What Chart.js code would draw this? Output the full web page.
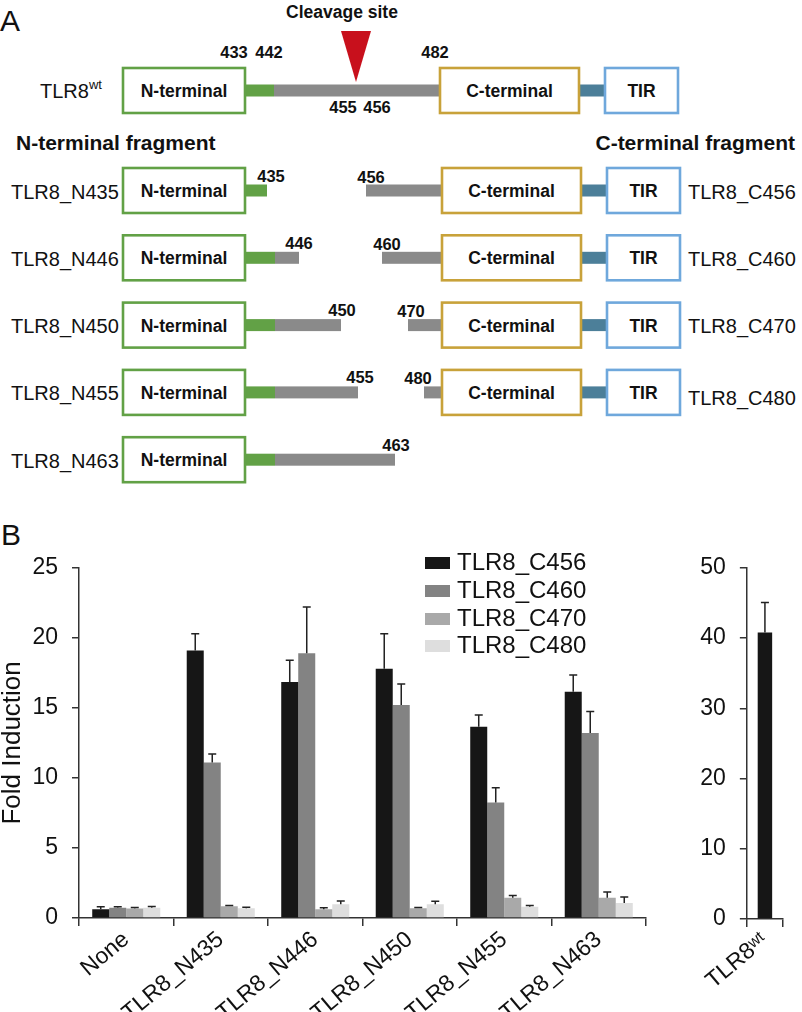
<!DOCTYPE html>
<html>
<head>
<meta charset="utf-8">
<script src="https://cdn.jsdelivr.net/npm/chart.js@4.4.1/dist/chart.umd.min.js"></script>
<style>
  body { margin: 0; background: #fff; font-family: "Liberation Sans", Arial, sans-serif; color: #111; }
  #page { position: relative; width: 802px; height: 1012px; overflow: hidden; }
  #diagram { position: absolute; left: 0; top: 0; }
  .panel { position: absolute; font-size: 30px; }
  #leftBox { position: absolute; left: 0; top: 540px; width: 660px; height: 472px; }
  #rightBox { position: absolute; left: 680px; top: 540px; width: 122px; height: 472px; }
  #legend { position: absolute; left: 425px; top: 548px; font-size: 24px; }
  #legend div { height: 27.8px; line-height: 27.8px; white-space: nowrap; }
  #legend span.sw { display: inline-block; width: 25px; height: 12px; margin-right: 7px; vertical-align: 1px; }
</style>
</head>
<body>
<div id="page">
  <svg id="diagram" width="802" height="500"></svg>
  <div class="panel" style="left:0;top:4px;">A</div>
  <div class="panel" style="left:1px;top:518px;">B</div>
  <div id="leftBox"><canvas id="chart"></canvas></div>
  <div id="rightBox"><canvas id="chartWt"></canvas></div>
  <div id="legend"></div>
</div>
<script>
'use strict';

// panel B data
let categories = ['None', 'TLR8_N435', 'TLR8_N446', 'TLR8_N450', 'TLR8_N455', 'TLR8_N463'];
let seriesNames = ['TLR8_C456', 'TLR8_C460', 'TLR8_C470', 'TLR8_C480'];
let seriesColors = ['#161616', '#838383', '#a9a9a9', '#dedede'];

let c456 = [0.62, 19.1, 16.85, 17.8, 13.65, 16.15];
let c460 = [0.73, 11.1, 18.9, 15.2, 8.25, 13.2];
let c470 = [0.68, 0.83, 0.62, 0.7, 1.45, 1.45];
let c480 = [0.73, 0.7, 0.99, 0.98, 0.8, 1.07];

let err456 = [0.18, 1.2, 1.55, 2.5, 0.85, 1.2];
let err460 = [0.07, 0.6, 3.3, 1.5, 1.05, 1.55];
let err470 = [0.07, 0.07, 0.11, 0.05, 0.15, 0.4];
let err480 = [0.09, 0.07, 0.23, 0.22, 0.1, 0.43];

let yTicks = [0, 5, 10, 15, 20, 25];

let wtLabels = ['TLR8\u02B7\u1D57'];
let wtValues = [40.8];
let wtErrors = [4.25];
let wtTicks = [0, 10, 20, 30, 40, 50];

let fontFamily = '"Liberation Sans", Arial, sans-serif';

// ---------- panel A diagram ----------
let svg = document.getElementById('diagram');
const NS = 'http://www.w3.org/2000/svg';

function add(tag, attrs, text) {
  let node = document.createElementNS(NS, tag);
  for (let k in attrs) node.setAttribute(k, attrs[k]);
  if (text !== undefined) node.textContent = text;
  svg.appendChild(node);
  return node;
}

function box(x, y, w, stroke, label) {
  add('rect', { x: x, y: y, width: w, height: 45, fill: '#fff', stroke: stroke, 'stroke-width': 2.6 });
  add('text', { x: x + w / 2, y: y + 23, 'text-anchor': 'middle', 'dominant-baseline': 'central',
    'font-family': fontFamily, 'font-weight': 'bold', 'font-size': 17.5, fill: '#111' }, label);
}

function bar(x1, x2, cy, color) {
  add('rect', { x: x1, y: cy - 6, width: x2 - x1, height: 12, fill: color });
}

function num(x, y, t) {
  add('text', { x: x, y: y, 'text-anchor': 'middle', 'dominant-baseline': 'central',
    'font-family': fontFamily, 'font-weight': 'bold', 'font-size': 16.5, fill: '#111' }, t);
}

function plain(x, y, t, anchor) {
  return add('text', { x: x, y: y, 'text-anchor': anchor || 'start', 'dominant-baseline': 'central',
    'font-family': fontFamily, 'font-size': 20, fill: '#111' }, t);
}

let green = '#62a146';
let gold = '#c8a23a';
let blue = '#6fa8dc';
let teal = '#4c7f99';
let gray = '#8a8a8a';

// wild type row
bar(245, 274, 90.5, green);
bar(274, 440, 90.5, gray);
bar(579, 605, 90.5, teal);
box(123, 68, 122, green, 'N-terminal');
box(440, 68, 139, gold, 'C-terminal');
box(605, 68, 73, blue, 'TIR');
num(234, 52, '433');
num(269, 52, '442');
num(435, 52, '482');
num(343, 107, '455');
num(377, 107, '456');
add('polygon', { points: '341,31 371,31 356,82', fill: '#c8101c' });
add('text', { x: 342, y: 12, 'text-anchor': 'middle', 'dominant-baseline': 'central',
  'font-family': fontFamily, 'font-weight': 'bold', 'font-size': 17.5, fill: '#111' }, 'Cleavage site');
let wt = plain(40, 91, 'TLR8');
let sup = document.createElementNS(NS, 'tspan');
sup.setAttribute('font-size', 13);
sup.setAttribute('dy', -7);
sup.textContent = 'wt';
wt.appendChild(sup);

add('text', { x: 16, y: 142, 'dominant-baseline': 'central', 'font-family': fontFamily,
  'font-weight': 'bold', 'font-size': 21, fill: '#111' }, 'N-terminal fragment');
add('text', { x: 795, y: 142, 'text-anchor': 'end', 'dominant-baseline': 'central', 'font-family': fontFamily,
  'font-weight': 'bold', 'font-size': 21, fill: '#111' }, 'C-terminal fragment');

let nRows = [
  { name: 'TLR8_N435', cut: '435', end: 267, labelX: 271 },
  { name: 'TLR8_N446', cut: '446', end: 299, labelX: 299 },
  { name: 'TLR8_N450', cut: '450', end: 341, labelX: 342 },
  { name: 'TLR8_N455', cut: '455', end: 358, labelX: 360 },
  { name: 'TLR8_N463', cut: '463', end: 395, labelX: 396 }
];
let cRows = [
  { name: 'TLR8_C456', cut: '456', start: 366, labelX: 371 },
  { name: 'TLR8_C460', cut: '460', start: 382, labelX: 387 },
  { name: 'TLR8_C470', cut: '470', start: 408, labelX: 411 },
  { name: 'TLR8_C480', cut: '480', start: 424, labelX: 418 }
];

for (let i = 0; i < nRows.length; i++) {
  let top = 168 + i * 67.3;
  let cy = top + 22.5;
  let r = nRows[i];
  bar(245, Math.min(r.end, 275), cy, green);
  if (r.end > 275) bar(275, r.end, cy, gray);
  box(123, top, 122, green, 'N-terminal');
  num(r.labelX, cy - 15, r.cut);
  plain(11, cy + 1, r.name);
}

for (let i = 0; i < cRows.length; i++) {
  let top = 168 + i * 67.3;
  let cy = top + 22.5;
  let r = cRows[i];
  bar(r.start, 442, cy, gray);
  bar(581, 607, cy, teal);
  box(442, top, 139, gold, 'C-terminal');
  box(607, top, 73, blue, 'TIR');
  num(r.labelX, cy - 14, r.cut);
  plain(688, cy + 1 + (i === 3 ? 5 : 0), r.name);
}

// ---------- panel B charts ----------
let errorBars = {
  id: 'errorBars',
  afterDatasetsDraw(chart) {
    let ctx = chart.ctx;
    let y = chart.scales.y;
    chart.data.datasets.forEach((ds, i) => {
      if (!ds.errors) return;
      chart.getDatasetMeta(i).data.forEach((el, j) => {
        let top = y.getPixelForValue(ds.data[j] + ds.errors[j]);
        ctx.save();
        ctx.strokeStyle = '#222';
        ctx.lineWidth = 1.5;
        ctx.beginPath();
        ctx.moveTo(el.x, el.y);
        ctx.lineTo(el.x, top);
        ctx.moveTo(el.x - 4, top);
        ctx.lineTo(el.x + 4, top);
        ctx.stroke();
        ctx.restore();
      });
    });
  }
};

function axes(yMax, step, yWidth, xHeight, title) {
  return {
    x: {
      grid: { offset: true, drawOnChartArea: false, tickLength: 8, color: '#333', lineWidth: 1.5 },
      border: { color: '#333', width: 1.5 },
      ticks: { font: { size: 23, family: fontFamily }, color: '#111', maxRotation: 40, minRotation: 40, autoSkip: false, padding: 0 },
      afterFit(s) { s.height = xHeight; }
    },
    y: {
      min: 0,
      max: yMax,
      ticks: { stepSize: step, font: { size: 23, family: fontFamily }, color: '#111', padding: 14 },
      grid: { drawOnChartArea: false, tickLength: 7, color: '#333', lineWidth: 1.5 },
      border: { color: '#333', width: 1.5 },
      title: { display: !!title, text: title || '', font: { size: 26, family: fontFamily, lineHeight: 1 }, color: '#111', padding: 0 },
      afterFit(s) { s.width = yWidth; }
    }
  };
}

let seriesValues = [c456, c460, c470, c480];
let seriesErrors = [err456, err460, err470, err480];
let datasets = [];
for (let i = 0; i < seriesNames.length; i++) {
  datasets.push({
    label: seriesNames[i],
    data: seriesValues[i],
    errors: seriesErrors[i],
    backgroundColor: seriesColors[i],
    borderWidth: 0,
    categoryPercentage: 0.72,
    barPercentage: 1
  });
}

new Chart(document.getElementById('chart'), {
  type: 'bar',
  data: { labels: categories, datasets: datasets },
  options: {
    responsive: true,
    maintainAspectRatio: false,
    animation: false,
    layout: { padding: { top: 18, right: 14, left: 0, bottom: 0 } },
    plugins: { legend: { display: false }, tooltip: { enabled: false } },
    scales: axes(yTicks[yTicks.length - 1], yTicks[1] - yTicks[0], 79, 94, 'Fold Induction')
  },
  plugins: [errorBars]
});

new Chart(document.getElementById('chartWt'), {
  type: 'bar',
  data: {
    labels: wtLabels,
    datasets: [{
      label: 'TLR8wt',
      data: wtValues,
      errors: wtErrors,
      backgroundColor: seriesColors[0],
      borderWidth: 0,
      categoryPercentage: 1,
      barPercentage: 0.4
    }]
  },
  options: {
    responsive: true,
    maintainAspectRatio: false,
    animation: false,
    layout: { padding: { top: 17, right: 19, left: 0, bottom: 0 } },
    plugins: { legend: { display: false }, tooltip: { enabled: false } },
    scales: axes(wtTicks[wtTicks.length - 1], wtTicks[1] - wtTicks[0], 59, 93)
  },
  plugins: [errorBars]
});

// legend built from the series arrays
let legend = document.getElementById('legend');
for (let i = 0; i < seriesNames.length; i++) {
  let row = document.createElement('div');
  row.innerHTML = '<span class="sw" style="background:' + seriesColors[i] + '"></span>' + seriesNames[i];
  legend.appendChild(row);
}
</script>
</body>
</html>
